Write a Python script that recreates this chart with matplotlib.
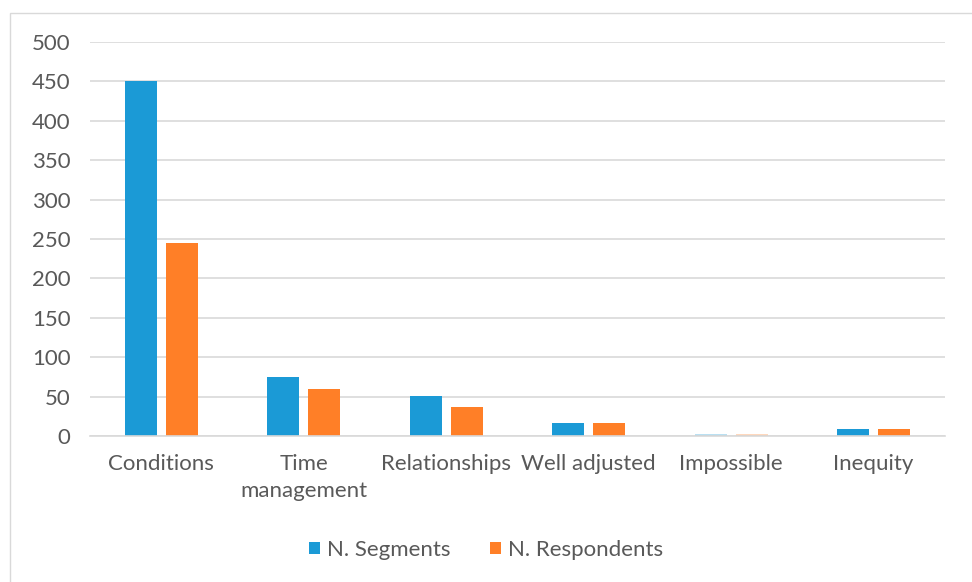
import numpy as np
import matplotlib
matplotlib.use("Agg")
import matplotlib.pyplot as plt
from matplotlib.patches import Rectangle

categories = ["Conditions", "Time\nmanagement", "Relationships", "Well adjusted", "Impossible", "Inequity"]
segments = [450, 75, 51, 17, 2, 9]
respondents = [245, 60, 37, 17, 2, 9]
yticks = [0, 50, 100, 150, 200, 250, 300, 350, 400, 450, 500]

blue = "#1B9AD6"
orange = "#FF7F27"
txt = "#595959"

plt.rcParams['font.family'] = ['Lato', 'DejaVu Sans']

fig = plt.figure(figsize=(9.72, 5.82), dpi=100)
ax = fig.add_axes([0.0926, 0.2509, 0.8794, 0.6769])

# chart area border
fig.patches.append(Rectangle((0.01, -0.01), 1.0, 0.988, transform=fig.transFigure,
                             fill=False, edgecolor="#D9D9D9", linewidth=1))

x = np.arange(len(categories))
w = 0.225
off = 0.144
alphas = [1, 1, 1, 1, 0.3, 1]
b1 = ax.bar(x - off, segments, w, color=blue, label="N. Segments")
b2 = ax.bar(x + off, respondents, w, color=orange, label="N. Respondents")
for i, a in enumerate(alphas):
    b1[i].set_alpha(a)
    b2[i].set_alpha(a)

ax.set_xlim(-0.5, len(categories) - 0.5)
ax.set_ylim(0, 500)
ax.set_yticks(yticks)
ax.yaxis.grid(True, color="#D9D9D9", linewidth=1.2)
ax.set_axisbelow(True)
for s in ["top", "right", "left"]:
    ax.spines[s].set_visible(False)
ax.spines["bottom"].set_color("#D9D9D9")
ax.spines["bottom"].set_linewidth(1.2)
ax.tick_params(axis="both", length=0, colors=txt, labelsize=16)
ax.tick_params(axis="y", pad=14)
ax.tick_params(axis="x", pad=13)
ax.set_xticks(x)
ax.set_xticklabels(categories, linespacing=1.45)

fig.legend(handles=[b1, b2], loc="center", bbox_to_anchor=(0.5, 0.055), ncol=2,
           frameon=False, fontsize=16, labelcolor=txt, handlelength=0.5,
           handleheight=0.5, handletextpad=0.3, columnspacing=1.8)

fig.savefig("out.png", dpi=100)
